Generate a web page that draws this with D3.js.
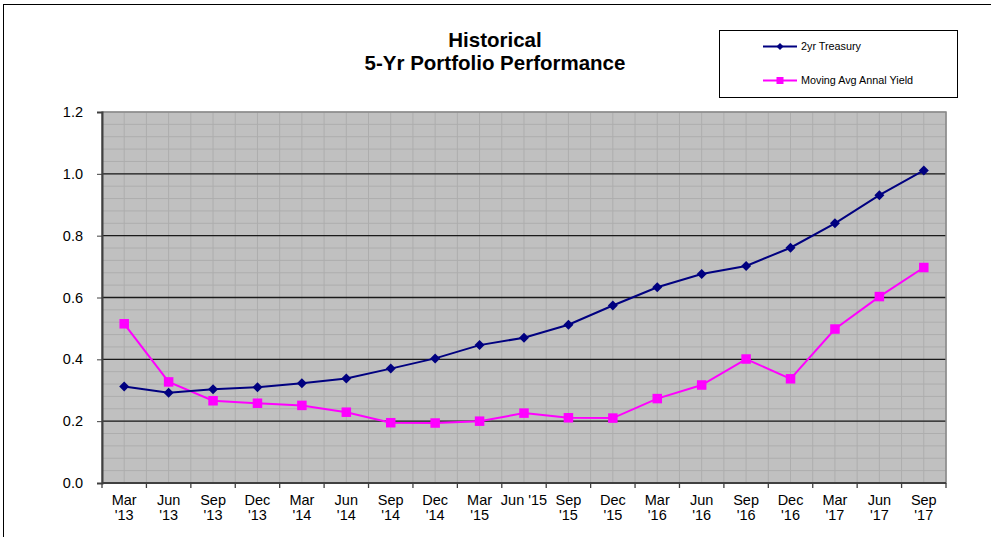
<!DOCTYPE html>
<html><head><meta charset="utf-8">
<script src="https://cdn.jsdelivr.net/npm/d3@7/dist/d3.min.js"></script>
<style>
html,body{margin:0;padding:0;background:#fff;overflow:hidden;}
svg{display:block;font-family:"Liberation Sans",Arial,sans-serif;}
</style></head>
<body><svg id="c" width="991" height="537"></svg>
<script>
const categories = ["Mar\n'13","Jun\n'13","Sep\n'13","Dec\n'13","Mar\n'14","Jun\n'14","Sep\n'14","Dec\n'14","Mar\n'15","Jun '15","Sep\n'15","Dec\n'15","Mar\n'16","Jun\n'16","Sep\n'16","Dec\n'16","Mar\n'17","Jun\n'17","Sep\n'17"];
const treasury = [0.312,0.292,0.303,0.310,0.323,0.338,0.370,0.403,0.446,0.470,0.512,0.574,0.633,0.676,0.702,0.761,0.840,0.931,1.011];
const movingAvgYield = [0.515,0.327,0.266,0.258,0.251,0.229,0.195,0.194,0.200,0.226,0.211,0.210,0.273,0.317,0.401,0.337,0.498,0.603,0.697];
const yTicks = [0,0.2,0.4,0.6,0.8,1.0,1.2];
const seriesNames = ["2yr Treasury","Moving Avg Annal Yield"];
const titleLines = ["Historical","5-Yr Portfolio Performance"];

const svg = d3.select("#c");
const L=102, R=946, T=112, B=483;
const x = d3.scaleBand().domain(d3.range(categories.length)).range([L,R]);
const y = d3.scaleLinear().domain([0,1.2]).range([B,T]);
const bw = x.bandwidth();
const cx = i => x(i)+bw/2;

// outer border
svg.append("rect").attr("x",3.5).attr("y",4.5).attr("width",1000).attr("height",600)
  .attr("fill","#fff").attr("stroke","#000").attr("stroke-width",1);

// plot background
svg.append("rect").attr("x",L).attr("y",T).attr("width",R-L).attr("height",B-T).attr("fill","#c0c0c0");

// minor grid horizontal
const minorY = d3.range(0,1.2001,0.04);
svg.append("g").selectAll("line").data(minorY).join("line")
  .attr("x1",L).attr("x2",R).attr("y1",d=>y(d)).attr("y2",d=>y(d))
  .attr("stroke","#adadad").attr("stroke-width",1);
// minor grid vertical (half categories)
const halfSteps = d3.range(0,categories.length*2+1);
svg.append("g").selectAll("line").data(halfSteps).join("line")
  .attr("x1",d=>L+d*bw/2).attr("x2",d=>L+d*bw/2).attr("y1",T).attr("y2",B)
  .attr("stroke","#adadad").attr("stroke-width",1);
// major grid
svg.append("g").selectAll("line").data(yTicks.slice(1,-1)).join("line")
  .attr("x1",L).attr("x2",R).attr("y1",d=>y(d)).attr("y2",d=>y(d))
  .attr("stroke","#1a1a1a").attr("stroke-width",1.3);
// plot border
svg.append("rect").attr("x",L).attr("y",T).attr("width",R-L).attr("height",B-T)
  .attr("fill","none").attr("stroke","#888").attr("stroke-width",1.5);

// y axis
const yAxis = d3.axisLeft(y).tickValues(yTicks).tickFormat(d3.format(".1f")).tickSize(5).tickPadding(14);
const gy = svg.append("g").attr("transform",`translate(${L},0)`).call(yAxis);
gy.select(".domain").attr("stroke","#404040").attr("stroke-width",2);
gy.selectAll(".tick line").attr("stroke","#404040");
gy.selectAll("text").attr("font-size",14.5).attr("fill","#000").attr("font-family","Liberation Sans, Arial, sans-serif");

// x axis
const gx = svg.append("g").attr("transform",`translate(0,${B})`);
gx.append("line").attr("x1",L).attr("x2",R).attr("stroke","#404040").attr("stroke-width",2);
gx.selectAll(".tk").data(d3.range(categories.length+1)).join("line").attr("class","tk")
  .attr("x1",d=>L+d*bw).attr("x2",d=>L+d*bw).attr("y1",0).attr("y2",5).attr("stroke","#404040").attr("stroke-width",1.3);
const xt = gx.selectAll(".lbl").data(categories).join("text").attr("class","lbl")
  .attr("text-anchor","middle").attr("font-size",14.5).attr("fill","#000");
xt.each(function(d,i){
  const lines = d.split("\n");
  d3.select(this).selectAll("tspan").data(lines).join("tspan")
    .attr("x",cx(i)).attr("y",(l,j)=>22+j*14.5).text(l=>l);
});

// lines
const line = d3.line().x((d,i)=>cx(i)).y(d=>y(d));
svg.append("path").datum(movingAvgYield).attr("d",line).attr("fill","none").attr("stroke","#ff00ff").attr("stroke-width",2);
svg.append("path").datum(treasury).attr("d",line).attr("fill","none").attr("stroke","#000080").attr("stroke-width",2);

svg.append("g").selectAll("rect").data(movingAvgYield).join("rect")
  .attr("x",(d,i)=>cx(i)-4.75).attr("y",d=>y(d)-4.75).attr("width",9.5).attr("height",9.5).attr("fill","#ff00ff");
const diamond = s => `M0,${-s}L${s},0L0,${s}L${-s},0Z`;
svg.append("g").selectAll("path").data(treasury).join("path")
  .attr("transform",(d,i)=>`translate(${cx(i)},${y(d)})`).attr("d",diamond(5)).attr("fill","#000080");

// title
svg.append("g").selectAll("text").data(titleLines).join("text")
  .attr("x",495).attr("y",(d,i)=>47+i*23).attr("text-anchor","middle")
  .attr("font-size",20.5).attr("font-weight","bold").attr("fill","#000").text(d=>d);

// legend
const lg = svg.append("g");
lg.append("rect").attr("x",719.5).attr("y",30.5).attr("width",238).attr("height",67).attr("fill","#fff").attr("stroke","#000").attr("stroke-width",1);
const colors = ["#000080","#ff00ff"];
const ly = [46.5,80.5];
seriesNames.forEach((n,i)=>{
  lg.append("line").attr("x1",763).attr("x2",797).attr("y1",ly[i]).attr("y2",ly[i]).attr("stroke",colors[i]).attr("stroke-width",2);
  if(i===0) lg.append("path").attr("transform",`translate(780,${ly[i]})`).attr("d",diamond(3.5)).attr("fill",colors[i]);
  else lg.append("rect").attr("x",776.5).attr("y",ly[i]-3.5).attr("width",7).attr("height",7).attr("fill",colors[i]);
  lg.append("text").attr("x",801).attr("y",ly[i]+3.8).attr("font-size",10.8).attr("fill","#000").text(n);
});
</script></body></html>
